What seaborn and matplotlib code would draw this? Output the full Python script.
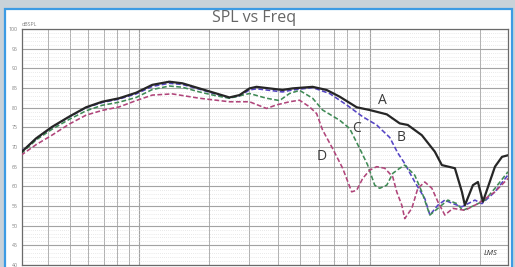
import matplotlib
matplotlib.use("Agg")
import matplotlib.pyplot as plt
import matplotlib.patches as mpatches
from matplotlib.ticker import LogLocator, MultipleLocator, NullFormatter
import seaborn as sns
import pandas as pd

# ---------------- data (Hz, dB SPL) ----------------
A_freq = [30.7, 35.7, 41.8, 49.6, 58.8, 69.0, 81.9, 97.0, 113.9, 135.0, 153.8, 182.3, 216.2, 246.2,
          272.2, 300.9, 322.7, 367.5, 418.5, 462.7, 565.3, 650.2, 740.5, 878.0, 1000, 1186, 1350,
          1463, 1683, 1917, 2056, 2342, 2512, 2588, 2804, 2948, 3099, 3495, 3750, 3981]
A_spl = [68.6, 72.2, 75.1, 77.7, 80.1, 81.5, 82.4, 83.8, 85.8, 86.6, 86.2, 84.9, 83.6, 82.6,
         83.2, 84.9, 85.3, 84.9, 84.5, 84.9, 85.3, 84.5, 82.8, 80.1, 79.4, 78.3, 76.0,
         75.6, 73.0, 68.8, 65.4, 64.6, 58.6, 55.2, 60.3, 61.1, 56.1, 65.0, 67.5, 67.9]

B_freq = [30.7, 35.7, 41.8, 49.6, 58.8, 69.0, 81.9, 97.0, 113.9, 135.0, 153.8, 182.3, 216.2, 246.2,
          272.2, 300.9, 322.7, 367.5, 418.5, 462.7, 565.3, 669.9, 794, 932, 1072, 1222, 1323,
          1419, 1569, 1734, 1824, 1975, 2118, 2296, 2512, 2861, 3069, 3495, 3981]
B_spl = [68.8, 72.0, 75.0, 77.6, 80.0, 81.3, 82.2, 83.5, 85.4, 86.2, 85.9, 84.7, 83.4, 82.5,
         83.0, 84.5, 84.8, 84.4, 84.0, 84.5, 85.1, 83.6, 80.7, 77.7, 75.6, 72.4, 68.5,
         65.8, 61.1, 56.9, 52.7, 55.2, 56.5, 55.6, 54.8, 56.5, 55.6, 58.6, 62.9]

C_freq = [30.7, 35.7, 41.8, 49.6, 58.8, 69.0, 81.9, 97.0, 113.9, 135.0, 153.8, 182.3, 216.2, 246.2,
          300.9, 356.6, 406.1, 448.9, 496, 565.3, 624.7, 740.5, 818.5, 905, 980, 1051, 1105,
          1186, 1259, 1350, 1419, 1569, 1683, 1824, 1975, 2183, 2389, 2537, 2861, 3162, 3495, 3981]
C_spl = [68.3, 71.8, 74.5, 77.0, 79.2, 80.6, 81.4, 82.6, 84.6, 85.5, 85.2, 84.0, 83.0, 82.4,
         83.6, 82.4, 81.8, 83.6, 84.4, 82.4, 79.4, 76.8, 74.7, 69.6, 65.4, 60.3, 59.5,
         60.3, 63.3, 64.6, 65.4, 62.8, 58.6, 52.7, 54.4, 56.5, 55.6, 53.9, 55.2, 56.5, 59.5, 63.7]

D_freq = [30.7, 35.7, 41.8, 49.6, 58.8, 69.0, 81.9, 97.0, 113.9, 139.1, 182.3, 246.2, 300.9, 356.6,
          394.1, 448.9, 496, 548.3, 588.4, 624.7, 690.4, 763.1, 835.2, 878, 932, 1000, 1072,
          1162, 1259, 1310, 1378, 1419, 1523, 1617, 1734, 1861, 1975, 2118, 2296, 2588, 2948, 3495, 3981]
D_spl = [67.9, 70.6, 73.0, 75.8, 78.1, 79.3, 80.2, 81.8, 83.2, 83.5, 82.4, 81.5, 81.5, 79.8,
         80.7, 81.5, 81.9, 80.2, 78.5, 74.3, 69.6, 64.6, 58.6, 59.0, 62.0, 64.1, 65.0,
         64.6, 62.4, 58.6, 55.2, 51.8, 54.4, 59.5, 61.1, 59.5, 56.1, 52.7, 54.4, 53.9, 55.6, 58.6, 62.0]

curve_names = ["A", "B", "C", "D"]
curve_data = {"A": (A_freq, A_spl), "B": (B_freq, B_spl), "C": (C_freq, C_spl), "D": (D_freq, D_spl)}
y_ticks = [40, 45, 50, 55, 60, 65, 70, 75, 80, 85, 90, 95, 100]
title = "SPL vs Freq"
y_unit = "dBSPL"
label_pos = {"A": (1139, 81.9), "B": (1364, 72.3), "C": (878, 74.6), "D": (618, 67.7)}

colors = {"A": "#262626", "B": "#5544c4", "C": "#3f8a55", "D": "#b0457a"}
widths = {"A": 1.6, "B": 1.15, "C": 1.15, "D": 1.15}
dashes = {"A": (None, None), "B": (3, 1.5), "C": (3, 1.5), "D": (3, 1.5)}

rows = []
for n in curve_names:
    f, s = curve_data[n]
    for fi, si in zip(f, s):
        rows.append({"freq": fi, "spl": si, "curve": n})
df = pd.DataFrame(rows)

sns.set_style("white")
plt.rcParams["font.family"] = ["Open Sans", "DejaVu Sans"]

W, H = 515, 267
fig = plt.figure(figsize=(W / 100, H / 100), dpi=100, facecolor="#c9d2d9")

# white chart panel with blue border
panel = mpatches.Rectangle((5 / W, -0.05), 507 / W, 1 - 9 / H + 0.05, transform=fig.transFigure,
                           facecolor="white", edgecolor="#3d9be3", linewidth=1.6, zorder=-5)
fig.patches.append(panel)

ax = fig.add_axes([22 / W, 2 / H, 486 / W, 236 / H])
ax.set_zorder(2)
ax.set_facecolor("white")

for n in curve_names:
    sub = df[df["curve"] == n]
    line_kw = dict(color=colors[n], linewidth=widths[n])
    sns.lineplot(data=sub, x="freq", y="spl", ax=ax, sort=False, estimator=None, legend=False, **line_kw)
    ln = ax.get_lines()[-1]
    if n != "A":
        ln.set_dashes(dashes[n])
    ln.set_zorder(5 if n == "A" else 4)

ax.set_xscale("log")
ax.set_xlim(31, 3981)
ax.set_ylim(40, 100)

ax.xaxis.set_major_locator(LogLocator(base=10, numticks=10))
ax.xaxis.set_minor_locator(LogLocator(base=10, subs=range(2, 10), numticks=100))
ax.xaxis.set_major_formatter(NullFormatter())
ax.xaxis.set_minor_formatter(NullFormatter())
ax.yaxis.set_major_locator(MultipleLocator(5))
ax.yaxis.set_minor_locator(MultipleLocator(1))

ax.grid(which="major", color="#a3a3a3", linewidth=0.8)
ax.grid(which="minor", axis="x", color="#b0b0b0", linewidth=0.7)
ax.grid(which="minor", axis="y", color="#d5d5d5", linewidth=0.5, linestyle=(0, (1, 2)))

ax.set_yticks(y_ticks)
ax.set_yticklabels([str(t) for t in y_ticks], fontsize=3.8, color="#808080")
ax.tick_params(axis="both", which="both", length=0, pad=3)
ax.set_xlabel("")
ax.set_ylabel("")
for sp in ax.spines.values():
    sp.set_color("#6a6a6a")
    sp.set_linewidth(0.9)

fig.text(22 / W, 1 - 24 / H, y_unit, fontsize=3.8, color="#808080", ha="left", va="center")
fig.text(254 / W, 1 - 18 / H, title, fontsize=11.5, color="#666666", ha="center", va="center")

for n in curve_names:
    x, y = label_pos[n]
    ax.text(x, y, n, fontsize=10, color="#3a3a3a", ha="center", va="center", zorder=6)

ax.text(0.965, 0.05, "LMS", transform=ax.transAxes, fontsize=5.5, style="italic",
        color="#333333", ha="center", va="center", zorder=6)

fig.savefig("out.png", dpi=100, facecolor=fig.get_facecolor())
